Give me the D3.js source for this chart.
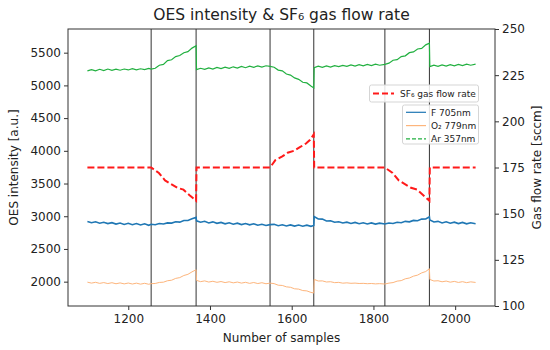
<!DOCTYPE html>
<html>
<head>
  <meta charset="utf-8">
  <title>OES intensity & SF6 gas flow rate</title>
  <script src="https://d3js.org/d3.v7.min.js"></script>
  <style>
    body { margin: 0; background: #fff; }
    text { font-family: "DejaVu Sans", sans-serif; fill: #222; }
    .axis path, .axis line { stroke: #333; }
    .axis text { font-size: 12px; fill: #222; }
  </style>
</head>
<body>
  <svg width="550" height="350"></svg>
  <script>
    // sample numbers shared by the three OES traces
    const samples = [
      1100,1110,1120,1130,1140,1150,1160,1170,1180,1190,1200,1210,1220,1230,1240,1250,1256,
      1266,1276,1286,1296,1306,1316,1326,1336,1346,1356,1366,
      1367,1377,1387,1397,1407,1417,1427,1437,1447,1457,1467,1477,1487,1497,1507,1517,1527,1537,1547,
      1557,1567,1577,1587,1597,1607,1617,1627,1637,1647,1654,
      1655,1665,1675,1685,1695,1705,1715,1725,1735,1745,1755,1765,1775,1785,1795,1805,1815,1828,
      1838,1848,1858,1868,1878,1888,1898,1908,1918,1928,1937,
      1938,1948,1958,1968,1978,1988,1998,2008,2018,2028,2038,2050
    ];

    const f705 = [
      2920,2900,2915,2893,2908,2888,2902,2880,2896,2875,2892,2870,2888,2866,2884,2862,2878,
      2870,2888,2882,2898,2895,2915,2910,2935,2935,2960,2982,
      2930,2908,2922,2898,2914,2892,2906,2884,2900,2878,2894,2872,2888,2868,2884,2862,2878,2858,2872,
      2876,2856,2870,2852,2868,2850,2866,2848,2864,2846,2860,
      2995,2958,2956,2928,2932,2908,2916,2896,2910,2890,2906,2886,2900,2882,2898,2880,2894,2882,
      2896,2890,2908,2900,2922,2914,2936,2932,2956,2958,2992,
      2942,2912,2922,2898,2916,2894,2910,2888,2906,2884,2900,2886
    ];

    const o2779 = [
      1992,1978,1990,1974,1986,1971,1984,1968,1981,1966,1979,1964,1977,1962,1975,1960,1970,
      1972,1988,1992,2014,2022,2050,2062,2094,2112,2150,2182,
      2020,2000,2012,1994,2006,1990,2002,1986,1998,1982,1994,1978,1990,1974,1987,1971,1984,1968,1978,
      1970,1946,1942,1921,1914,1891,1886,1864,1859,1836,1826,
      2034,2010,2012,1995,1999,1985,1989,1977,1982,1975,1978,1972,1974,1969,1972,1966,1970,1964,
      1978,1986,2008,2016,2044,2056,2084,2100,2134,2155,2198,
      2034,2010,2014,1998,2009,1992,2004,1988,2000,1985,1997,1988
    ];

    const ar357 = [
      5222,5242,5222,5246,5226,5250,5230,5248,5232,5250,5236,5256,5238,5254,5240,5260,5248,
      5262,5308,5322,5378,5392,5440,5456,5500,5516,5570,5605,
      5242,5262,5244,5268,5250,5274,5256,5278,5260,5284,5264,5290,5270,5294,5276,5298,5280,5300,5290,
      5278,5234,5222,5174,5158,5114,5092,5048,5038,4992,4962,
      5272,5294,5276,5298,5280,5302,5286,5306,5290,5312,5294,5316,5300,5320,5304,5324,5308,5322,
      5340,5384,5394,5440,5452,5500,5512,5556,5566,5620,5645,
      5286,5308,5290,5314,5296,5318,5300,5322,5304,5326,5308,5324
    ];

    // SF6 flow rate (right axis)
    const flowSamples = [1100,1256,1275,1290,1305,1320,1335,1350,1366,1367,1547,1560,1577,1590,1605,1620,1635,1645,1654,1655,1828,1847,1862,1877,1892,1907,1922,1937,1938,2050];
    const flowValues  = [175, 175, 172, 168, 166, 164, 163, 160, 157, 175, 175, 179, 181, 183, 184, 186, 188, 190, 193, 175, 175, 172, 168, 166, 164, 163, 160, 157, 175, 175];

    // step boundaries
    const boundaries = [1256, 1366, 1547, 1654, 1828, 1937];

    const xTicks = [1200, 1400, 1600, 1800, 2000];
    const leftTicks = [2000, 2500, 3000, 3500, 4000, 4500, 5000, 5500];
    const rightTicks = [100, 125, 150, 175, 200, 225, 250];

    const margin = { left: 68, right: 55, top: 29, bottom: 44 };
    const W = 550, H = 350;
    const svg = d3.select("svg");

    const x = d3.scaleLinear().domain([1052.5, 2097.5]).range([margin.left, W - margin.right]);
    const yL = d3.scaleLinear().domain([1628, 5862]).range([H - margin.bottom, margin.top]);
    const yR = d3.scaleLinear().domain([100, 250]).range([H - margin.bottom, margin.top]);

    const plot = svg.append("g");

    // vertical boundary lines
    plot.selectAll("line.bound")
      .data(boundaries)
      .enter()
      .append("line")
      .attr("class", "bound")
      .attr("x1", d => x(d)).attr("x2", d => x(d))
      .attr("y1", margin.top).attr("y2", H - margin.bottom)
      .attr("stroke", "#333")
      .attr("stroke-width", 1);

    const series = [
      { name: "F 705nm", values: f705, color: "#1f77b4", width: 1.6 },
      { name: "O\u2082 779nm", values: o2779, color: "#fdb57c", width: 1 },
      { name: "Ar 357nm", values: ar357, color: "#22b040", width: 1.2 }
    ];

    const lineL = d3.line()
      .x((d, i) => x(samples[i]))
      .y(d => yL(d));

    series.forEach(s => {
      plot.append("path")
        .datum(s.values)
        .attr("d", lineL)
        .attr("fill", "none")
        .attr("stroke", s.color)
        .attr("stroke-width", s.width);
    });

    const lineR = d3.line()
      .x((d, i) => x(flowSamples[i]))
      .y(d => yR(d));

    plot.append("path")
      .datum(flowValues)
      .attr("d", lineR)
      .attr("fill", "none")
      .attr("stroke", "#ff1a1a")
      .attr("stroke-width", 2)
      .attr("stroke-dasharray", "7,3");

    // frame
    svg.append("rect")
      .attr("x", margin.left).attr("y", margin.top)
      .attr("width", W - margin.left - margin.right)
      .attr("height", H - margin.top - margin.bottom)
      .attr("fill", "none")
      .attr("stroke", "#333");

    // axes
    svg.append("g")
      .attr("class", "axis")
      .attr("transform", `translate(0,${H - margin.bottom})`)
      .call(d3.axisBottom(x).tickValues(xTicks).tickSize(4).tickPadding(4).tickFormat(d3.format("d")))
      .call(g => g.select(".domain").remove());

    svg.append("g")
      .attr("class", "axis")
      .attr("transform", `translate(${margin.left},0)`)
      .call(d3.axisLeft(yL).tickValues(leftTicks).tickSize(4).tickPadding(3).tickFormat(d3.format("d")))
      .call(g => g.select(".domain").remove());

    svg.append("g")
      .attr("class", "axis")
      .attr("transform", `translate(${W - margin.right},0)`)
      .call(d3.axisRight(yR).tickValues(rightTicks).tickSize(4).tickPadding(3).tickFormat(d3.format("d")))
      .call(g => g.select(".domain").remove());

    // labels
    svg.append("text")
      .attr("x", (margin.left + W - margin.right) / 2)
      .attr("y", 20)
      .attr("text-anchor", "middle")
      .style("font-size", "15.5px")
      .text("OES intensity & SF\u2086 gas flow rate");

    svg.append("text")
      .attr("x", (margin.left + W - margin.right) / 2)
      .attr("y", 342)
      .attr("text-anchor", "middle")
      .style("font-size", "12px")
      .text("Number of samples");

    svg.append("text")
      .attr("transform", `translate(18,${(margin.top + H - margin.bottom) / 2}) rotate(-90)`)
      .attr("text-anchor", "middle")
      .style("font-size", "12px")
      .text("OES intensity [a.u.]");

    svg.append("text")
      .attr("transform", `translate(541,${(margin.top + H - margin.bottom) / 2}) rotate(-90)`)
      .attr("text-anchor", "middle")
      .style("font-size", "12px")
      .text("Gas flow rate [sccm]");

    // legend for flow rate
    const lg1 = svg.append("g");
    lg1.append("rect")
      .attr("x", 369.5).attr("y", 85).attr("width", 109).attr("height", 17)
      .attr("rx", 2).attr("fill", "rgba(255,255,255,0.85)").attr("stroke", "#d5d5d5");
    lg1.append("line")
      .attr("x1", 373).attr("x2", 394).attr("y1", 93.5).attr("y2", 93.5)
      .attr("stroke", "#ff1a1a").attr("stroke-width", 2).attr("stroke-dasharray", "6,3");
    lg1.append("text")
      .attr("x", 400).attr("y", 97)
      .style("font-size", "9px")
      .text("SF\u2086 gas flow rate");

    // legend for OES lines
    const lg2 = svg.append("g");
    lg2.append("rect")
      .attr("x", 402.5).attr("y", 105).attr("width", 76).attr("height", 39)
      .attr("rx", 2).attr("fill", "rgba(255,255,255,0.85)").attr("stroke", "#d5d5d5");
    const legendDash = [null, null, "4,2"];
    series.forEach((s, i) => {
      const yy = 112.3 + i * 13.3;
      lg2.append("line")
        .attr("x1", 406).attr("x2", 426).attr("y1", yy).attr("y2", yy)
        .attr("stroke", s.color).attr("stroke-width", 1.2)
        .attr("stroke-dasharray", legendDash[i]);
      lg2.append("text")
        .attr("x", 431).attr("y", yy + 3.3)
        .style("font-size", "9px")
        .text(s.name);
    });
  </script>
</body>
</html>
